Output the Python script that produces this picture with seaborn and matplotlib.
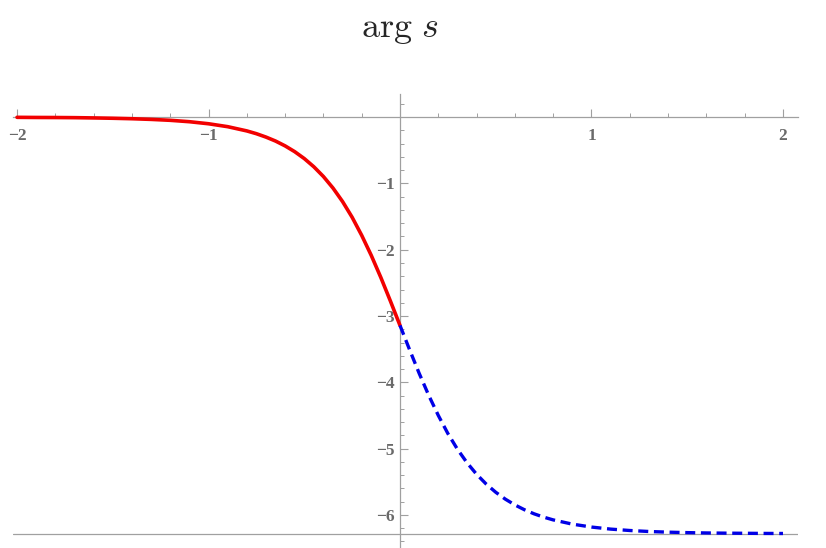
import numpy as np
import pandas as pd
import matplotlib
matplotlib.use("Agg")
import matplotlib.pyplot as plt
import seaborn as sns
from matplotlib.ticker import MultipleLocator, FixedLocator

# ---- data ----
x_red = [-2.0, -1.9, -1.8, -1.7, -1.6, -1.5, -1.4, -1.3, -1.2, -1.1, -1.0,
         -0.9, -0.8, -0.75, -0.7, -0.65, -0.6, -0.55, -0.5, -0.45, -0.4,
         -0.35, -0.3, -0.25, -0.2, -0.15, -0.1, -0.05, 0.0]
y_red = [-0.002, -0.004, -0.005, -0.007, -0.011, -0.016, -0.023, -0.033, -0.047, -0.068, -0.099,
         -0.143, -0.207, -0.249, -0.300, -0.360, -0.433, -0.520, -0.624, -0.748, -0.895,
         -1.069, -1.273, -1.510, -1.783, -2.086, -2.419, -2.775, -3.142]

x_blue = [0.0, 0.05, 0.1, 0.15, 0.2, 0.25, 0.3, 0.35, 0.4, 0.45, 0.5, 0.55,
          0.6, 0.65, 0.7, 0.75, 0.8, 0.9, 1.0, 1.1, 1.2, 1.3, 1.4, 1.5,
          1.6, 1.7, 1.8, 1.9, 2.0]
y_blue = [-3.142, -3.508, -3.864, -4.197, -4.500, -4.773, -5.010, -5.214, -5.388, -5.535, -5.659, -5.763,
          -5.850, -5.923, -5.984, -6.034, -6.076, -6.140, -6.184, -6.215, -6.236, -6.251, -6.261, -6.268,
          -6.273, -6.276, -6.278, -6.280, -6.281]

asymptote = -2 * np.pi
x_major = [-2, -1, 1, 2]
x_labels = ["\u22122", "\u22121", "1", "2"]
y_major = [-1, -2, -3, -4, -5, -6]
y_labels = ["\u22121", "\u22122", "\u22123", "\u22124", "\u22125", "\u22126"]
title_text = r"$\arg\, s$"

# ---- plotting ----
sns.set_style("white")
plt.rcParams["mathtext.fontset"] = "cm"
plt.rcParams["font.family"] = ["Liberation Serif", "DejaVu Serif"]

fig = plt.figure(figsize=(8.26, 5.48), dpi=100)
ax = fig.add_axes([13.2 / 826, 0.0, (798.3 - 13.2) / 826, 1 - 94 / 548])

df_red = pd.DataFrame({"x": x_red, "y": y_red})
df_blue = pd.DataFrame({"x": x_blue, "y": y_blue})

axis_color = "#a0a0a0"
ax.axhline(asymptote, color=axis_color, lw=0.9, zorder=1)

sns.lineplot(data=df_red, x="x", y="y", ax=ax, color=(0.95, 0, 0),
             linewidth=2.6, estimator=None, sort=False, zorder=3)
sns.lineplot(data=df_blue, x="x", y="y", ax=ax, color=(0, 0, 0.9),
             linewidth=2.4, estimator=None, sort=False, zorder=3,
             linestyle=(0, (3.0, 1.7)))

ax.set_xlim(-2.02, 2.08)
ax.set_ylim(-6.5, 0.35)
ax.set_xlabel("")
ax.set_ylabel("")

for s in ["top", "right"]:
    ax.spines[s].set_visible(False)
ax.spines["left"].set_position(("data", 0))
ax.spines["bottom"].set_position(("data", 0))
for s in ["left", "bottom"]:
    ax.spines[s].set_color(axis_color)
    ax.spines[s].set_linewidth(0.9)

ax.xaxis.set_major_locator(FixedLocator(x_major))
ax.set_xticklabels(x_labels, fontweight="bold")
ax.xaxis.set_minor_locator(MultipleLocator(0.2))
ax.yaxis.set_major_locator(FixedLocator(y_major))
ax.set_yticklabels(y_labels, fontweight="bold")
ax.yaxis.set_minor_locator(MultipleLocator(0.2))

ax.tick_params(axis="both", which="major", direction="in", length=5.5, width=0.8,
               color=axis_color, labelcolor="#6a6a6a", labelsize=12.5)
ax.tick_params(axis="both", which="minor", direction="in", length=3.2, width=0.7,
               color=axis_color)
ax.tick_params(axis="x", which="major", pad=8)
ax.tick_params(axis="y", which="major", pad=4)
ax.xaxis.set_ticks_position("bottom")
ax.yaxis.set_ticks_position("left")
ax.set_facecolor("white")
fig.patch.set_facecolor("white")

fig.text(400 / 826, 1 - 30 / 548, title_text, ha="center", va="center", fontsize=26)

fig.savefig("out.png", dpi=100, facecolor="white")
